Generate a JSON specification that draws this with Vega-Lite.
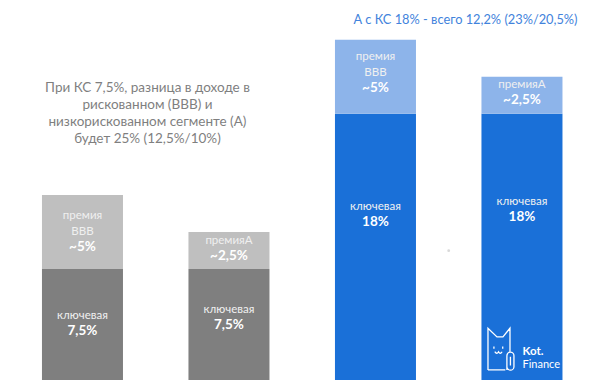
{
  "$schema": "https://vega.github.io/schema/vega-lite/v6.json",
  "width": 592,
  "height": 380,
  "autosize": {"type": "none"},
  "padding": {"left": 0, "top": 0, "right": 0, "bottom": 9},
  "background": "white",
  "config": {"view": {"stroke": null}, "font": "Lato"},
  "datasets": {
    "bars": [
      {"bar": "b1", "part": "gray-key", "ord": 1, "value": 7.5},
      {"bar": "b1", "part": "gray-prem", "ord": 2, "value": 5},
      {"bar": "b2", "part": "gray-key", "ord": 1, "value": 7.5},
      {"bar": "b2", "part": "gray-prem", "ord": 2, "value": 2.5},
      {"bar": "b3", "part": "blue-key", "ord": 1, "value": 18},
      {"bar": "b3", "part": "blue-prem", "ord": 2, "value": 5},
      {"bar": "b4", "part": "blue-key", "ord": 1, "value": 18},
      {"bar": "b4", "part": "blue-prem", "ord": 2, "value": 2.5}
    ],
    "labels": [
      {"bar": "b1", "pre": "премия", "name": "BBB", "val": "~5%", "level": 9.01},
      {"bar": "b2", "pre": "", "name": "премияA", "val": "~2,5%", "level": 8.38},
      {"bar": "b1", "pre": "", "name": "ключевая", "val": "7,5%", "level": 3.33},
      {"bar": "b2", "pre": "", "name": "ключевая", "val": "7,5%", "level": 3.72},
      {"bar": "b3", "pre": "премия", "name": "BBB", "val": "~5%", "level": 19.71},
      {"bar": "b4", "pre": "", "name": "премияA", "val": "~2,5%", "level": 18.92},
      {"bar": "b3", "pre": "", "name": "ключевая", "val": "18%", "level": 10.7},
      {"bar": "b4", "pre": "", "name": "ключевая", "val": "18%", "level": 11.03}
    ]
  },
  "layer": [
    {
      "data": {"name": "bars"},
      "mark": {"type": "bar"},
      "encoding": {
        "x": {
          "field": "bar", "type": "nominal", "axis": null,
          "scale": {"domain": ["b1", "b2", "b3", "b4"], "paddingInner": 0.447, "paddingOuter": 0.244, "align": 0.587}
        },
        "y": {
          "field": "value", "type": "quantitative", "stack": "zero", "axis": null,
          "scale": {"domain": [0, 25.68], "nice": false, "zero": true}
        },
        "color": {
          "field": "part", "type": "nominal", "legend": null,
          "scale": {"domain": ["gray-key", "gray-prem", "blue-key", "blue-prem"], "range": ["#7f7f7f", "#bfbfbf", "#1a70d8", "#8db4ea"]}
        },
        "order": {"field": "ord", "type": "quantitative"}
      }
    },
    {
      "data": {"name": "labels"},
      "mark": {"type": "text", "fontSize": 11.5, "color": "#f0f0f0", "baseline": "middle", "dy": -31, "align": "center"},
      "encoding": {
        "x": {"field": "bar", "type": "nominal"},
        "y": {"field": "level", "type": "quantitative"},
        "text": {"field": "pre", "type": "nominal"}
      }
    },
    {
      "data": {"name": "labels"},
      "mark": {"type": "text", "fontSize": 11.5, "color": "#f0f0f0", "baseline": "middle", "dy": -15, "align": "center"},
      "encoding": {
        "x": {"field": "bar", "type": "nominal"},
        "y": {"field": "level", "type": "quantitative"},
        "text": {"field": "name", "type": "nominal"}
      }
    },
    {
      "data": {"name": "labels"},
      "mark": {"type": "text", "fontSize": 13.5, "fontWeight": "bold", "color": "#ffffff", "baseline": "middle", "align": "center"},
      "encoding": {
        "x": {"field": "bar", "type": "nominal"},
        "y": {"field": "level", "type": "quantitative"},
        "text": {"field": "val", "type": "nominal"}
      }
    },
    {
      "data": {"values": [{"t": "При КС 7,5%, разница в доходе в\nрискованном (BBB) и\nнизкорискованном сегменте (А)\nбудет 25% (12,5%/10%)"}]},
      "mark": {"type": "text", "fontSize": 13.5, "color": "#7f7f7f", "baseline": "middle", "align": "center", "lineBreak": "\n", "lineHeight": 17, "dx": 65},
      "encoding": {
        "x": {"datum": "b1"},
        "y": {"datum": 19.76},
        "text": {"field": "t", "type": "nominal"}
      }
    },
    {
      "data": {"values": [{"t": "А с КС 18% - всего 12,2% (23%/20,5%)"}]},
      "mark": {"type": "text", "fontSize": 12.8, "color": "#4283dc", "baseline": "middle", "align": "center", "dx": -56.5},
      "encoding": {
        "x": {"datum": "b4"},
        "y": {"datum": 24.32},
        "text": {"field": "t", "type": "nominal"}
      }
    },
    {
      "data": {"values": [{"t": "Kot."}]},
      "mark": {"type": "text", "fontSize": 11.5, "fontWeight": "bold", "color": "#ffffff", "baseline": "middle", "align": "left", "dx": 0.5, "dy": -0.5},
      "encoding": {
        "x": {"datum": "b4"},
        "y": {"datum": 1.84},
        "text": {"field": "t", "type": "nominal"}
      }
    },
    {
      "data": {"values": [{"t": "Finance"}]},
      "mark": {"type": "text", "fontSize": 11, "color": "#ffffff", "baseline": "middle", "align": "left", "dx": 0.5, "dy": 0.5},
      "encoding": {
        "x": {"datum": "b4"},
        "y": {"datum": 1.08},
        "text": {"field": "t", "type": "nominal"}
      }
    },
    {
      "data": {"values": [{"logo": "cat"}]},
      "mark": {
        "type": "point", "filled": false, "stroke": "#ffffff", "strokeWidth": 1.3, "size": 1936, "opacity": 1,
        "shape": "M -0.59 0.95 L -0.59 -0.95 L -0.18 -0.55 L 0.09 -0.55 L 0.41 -0.95 L 0.41 0.14 M 0.2 0.95 L -0.59 0.95 M 0.27 0.95 L 0.27 0.3 A 0.16 0.16 0 0 1 0.59 0.3 L 0.59 0.8 A 0.16 0.16 0 0 1 0.27 0.8 M 0.43 0.35 L 0.43 0.75 M -0.32 -0.12 L -0.32 -0.02 M 0.08 -0.12 L 0.08 -0.02 M -0.28 0.12 Q -0.19 0.26 -0.11 0.12 Q -0.03 0.26 0.05 0.12"
      },
      "encoding": {
        "x": {"datum": "b4"},
        "xOffset": {"value": 19.5},
        "y": {"datum": 2.09}
      }
    },
    {
      "data": {"values": [{"dot": 1}]},
      "mark": {"type": "point", "filled": true, "color": "#d9d9d9", "size": 8, "opacity": 1},
      "encoding": {
        "x": {"datum": "b3"},
        "xOffset": {"value": 113.75},
        "y": {"datum": 8.74}
      }
    }
  ]
}
